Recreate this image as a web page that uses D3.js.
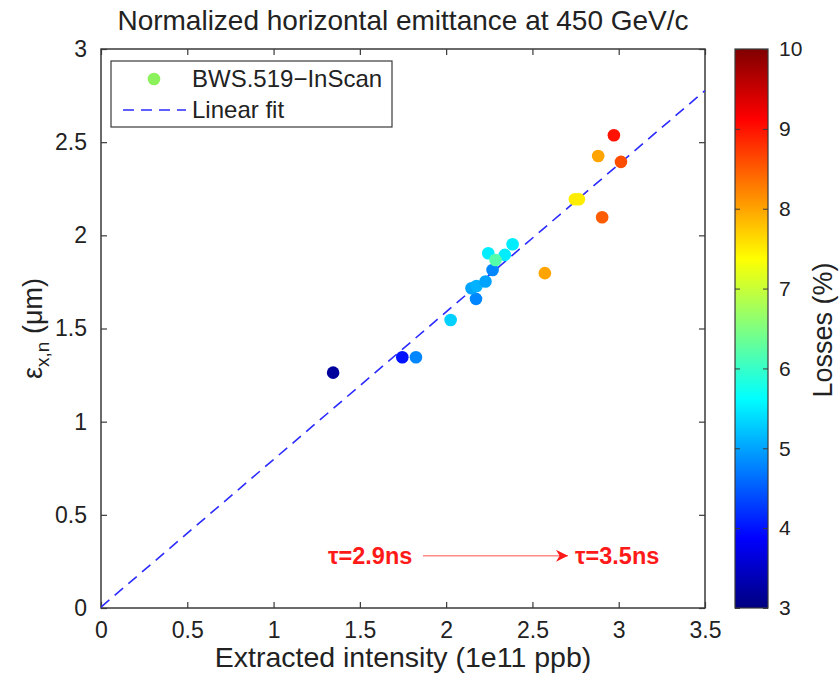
<!DOCTYPE html>
<html>
<head>
<meta charset="utf-8">
<script src="https://cdn.jsdelivr.net/npm/d3@7"></script>
<style>
  body { margin: 0; background: #fff; }
  svg text { font-family: "Liberation Sans", Arial, sans-serif; }
</style>
</head>
<body>
<div id="chart"></div>
<script>
const intensity = [1.345, 1.746, 1.825, 2.026, 2.173, 2.147, 2.176, 2.228, 2.269, 2.244, 2.340, 2.385, 2.286, 2.572, 2.972, 2.881, 3.013, 2.746, 2.769, 2.904];
const emittance = [1.263, 1.346, 1.346, 1.546, 1.659, 1.716, 1.728, 1.752, 1.814, 1.904, 1.895, 1.952, 1.868, 1.797, 2.537, 2.426, 2.394, 2.194, 2.194, 2.097];
const losses    = [3.2, 4.0, 4.8, 5.3, 4.8, 5.0, 5.1, 5.0, 4.8, 5.5, 5.5, 5.5, 6.2, 8.0, 9.0, 8.0, 8.6, 7.5, 7.5, 8.5];

const fitSlope = 0.792;
const fitIntercept = 0.005;

const xTicks = [0, 0.5, 1, 1.5, 2, 2.5, 3, 3.5];
const yTicks = [0, 0.5, 1, 1.5, 2, 2.5, 3];
const cTicks = [3, 4, 5, 6, 7, 8, 9, 10];

const W = 839, H = 674;
const plot = { left: 101, right: 705, top: 49, bottom: 608 };
const cbar = { left: 735, right: 768 };

const svg = d3.select("#chart").append("svg")
  .attr("width", W).attr("height", H);

const x = d3.scaleLinear().domain([0, 3.5]).range([plot.left, plot.right]);
const y = d3.scaleLinear().domain([0, 3]).range([plot.bottom, plot.top]);
const cy = d3.scaleLinear().domain([3, 10]).range([plot.bottom, plot.top]);

// matlab jet
function jet(t) {
  const c = v => Math.max(0, Math.min(1, v));
  const r = c(1.5 - Math.abs(4 * t - 3));
  const g = c(1.5 - Math.abs(4 * t - 2));
  const b = c(1.5 - Math.abs(4 * t - 1));
  return d3.rgb(r * 255, g * 255, b * 255).formatHex();
}
const color = v => jet((v - 3) / 7);

const axisColor = "#3a3a3a";
const textColor = "#222";

// title
svg.append("text")
  .attr("x", (plot.left + plot.right) / 2).attr("y", 30)
  .attr("text-anchor", "middle")
  .style("font-size", "28px").style("fill", textColor)
  .text("Normalized horizontal emittance at 450 GeV/c");

// axes with inward ticks
svg.append("g")
  .attr("transform", `translate(0,${plot.bottom})`)
  .call(d3.axisBottom(x).tickValues(xTicks).tickFormat(d3.format("")).tickSizeInner(-6).tickSizeOuter(0).tickPadding(14))
  .call(g => g.select(".domain").remove());
svg.append("g")
  .attr("transform", `translate(0,${plot.top})`)
  .call(d3.axisTop(x).tickValues(xTicks).tickFormat("").tickSizeInner(-6).tickSizeOuter(0))
  .call(g => g.select(".domain").remove());
svg.append("g")
  .attr("transform", `translate(${plot.left},0)`)
  .call(d3.axisLeft(y).tickValues(yTicks).tickFormat(d3.format("")).tickSizeInner(-6).tickSizeOuter(0).tickPadding(14))
  .call(g => g.select(".domain").remove());
svg.append("g")
  .attr("transform", `translate(${plot.right},0)`)
  .call(d3.axisRight(y).tickValues(yTicks).tickFormat("").tickSizeInner(-6).tickSizeOuter(0))
  .call(g => g.select(".domain").remove());

svg.selectAll(".tick line").attr("stroke", axisColor).attr("stroke-width", 1.2);
svg.selectAll(".tick text").style("font-size", "23px").style("fill", textColor);

svg.append("rect")
  .attr("x", plot.left).attr("y", plot.top)
  .attr("width", plot.right - plot.left).attr("height", plot.bottom - plot.top)
  .attr("fill", "none").attr("stroke", axisColor).attr("stroke-width", 1.5);

// axis labels
svg.append("text")
  .attr("x", (plot.left + plot.right) / 2).attr("y", 667)
  .attr("text-anchor", "middle")
  .style("font-size", "28.5px").style("fill", textColor)
  .text("Extracted intensity (1e11 ppb)");

const yl = svg.append("text")
  .attr("transform", `translate(42,${(plot.top + plot.bottom) / 2}) rotate(-90)`)
  .attr("text-anchor", "middle")
  .style("font-size", "27px").style("fill", textColor);
yl.append("tspan").text("ε");
yl.append("tspan").attr("dy", 7).style("font-size", "19px").text("x,n");
yl.append("tspan").attr("dy", -7).text(" (μm)");

// fit line
svg.append("clipPath").attr("id", "clip").append("rect")
  .attr("x", plot.left).attr("y", plot.top)
  .attr("width", plot.right - plot.left).attr("height", plot.bottom - plot.top);

svg.append("line")
  .attr("clip-path", "url(#clip)")
  .attr("x1", x(0)).attr("y1", y(fitIntercept))
  .attr("x2", x(3.5)).attr("y2", y(fitIntercept + fitSlope * 3.5))
  .attr("stroke", "#2b2bff").attr("stroke-width", 1.6)
  .attr("stroke-dasharray", "11,7");

// points
svg.append("g").selectAll("circle")
  .data(intensity.map((v, i) => ({ x: v, y: emittance[i], c: losses[i] })))
  .enter().append("circle")
  .attr("cx", d => x(d.x))
  .attr("cy", d => y(d.y))
  .attr("r", 6.3)
  .attr("fill", d => color(d.c));

// annotation
const red = "#ff1a1a";
const annY = y(0.28);
svg.append("text")
  .attr("x", 328).attr("y", annY + 8)
  .style("font-size", "23.5px").style("font-weight", "bold").style("fill", red)
  .text("τ=2.9ns");
svg.append("defs").append("marker")
  .attr("id", "arrow").attr("viewBox", "0 0 10 10")
  .attr("refX", 10).attr("refY", 5)
  .attr("markerWidth", 17).attr("markerHeight", 12)
  .attr("markerUnits", "userSpaceOnUse")
  .attr("orient", "auto")
  .append("path").attr("d", "M0,0 L10,5 L0,10 L3,5 Z").attr("fill", red);
svg.append("line")
  .attr("x1", 423).attr("x2", 568)
  .attr("y1", annY).attr("y2", annY)
  .attr("stroke", "#ff8a8a").attr("stroke-width", 1.5)
  .attr("marker-end", "url(#arrow)");
svg.append("text")
  .attr("x", 575).attr("y", annY + 8)
  .style("font-size", "23.5px").style("font-weight", "bold").style("fill", red)
  .text("τ=3.5ns");

// legend
const lg = svg.append("g");
lg.append("rect")
  .attr("x", 111).attr("y", 61).attr("width", 281).attr("height", 66)
  .attr("fill", "#fff").attr("stroke", axisColor).attr("stroke-width", 1.2);
lg.append("circle").attr("cx", 154).attr("cy", 79).attr("r", 6.3).attr("fill", "#8cf25c");
lg.append("text").attr("x", 192).attr("y", 87).style("font-size", "24px").style("fill", textColor).text("BWS.519−InScan");
lg.append("line").attr("x1", 123).attr("x2", 186).attr("y1", 110).attr("y2", 110)
  .attr("stroke", "#2b2bff").attr("stroke-width", 1.6).attr("stroke-dasharray", "11,7");
lg.append("text").attr("x", 192).attr("y", 118).style("font-size", "24px").style("fill", textColor).text("Linear fit");

// colorbar
const grad = svg.select("defs").append("linearGradient")
  .attr("id", "jet").attr("x1", 0).attr("y1", 1).attr("x2", 0).attr("y2", 0);
d3.range(0, 1.0001, 1 / 64).forEach(t => {
  grad.append("stop").attr("offset", t).attr("stop-color", jet(t));
});
svg.append("rect")
  .attr("x", cbar.left).attr("y", plot.top)
  .attr("width", cbar.right - cbar.left).attr("height", plot.bottom - plot.top)
  .attr("fill", "url(#jet)").attr("stroke", axisColor).attr("stroke-width", 1.2);

svg.append("g")
  .attr("transform", `translate(${cbar.right},0)`)
  .call(d3.axisRight(cy).tickValues(cTicks).tickFormat(d3.format("d")).tickSizeInner(-5).tickSizeOuter(0).tickPadding(11))
  .call(g => g.select(".domain").remove())
  .call(g => g.selectAll("text").style("font-size", "21px").style("fill", textColor))
  .call(g => g.selectAll("line").attr("stroke", axisColor));
svg.append("g")
  .attr("transform", `translate(${cbar.left},0)`)
  .call(d3.axisLeft(cy).tickValues(cTicks).tickFormat("").tickSizeInner(-5).tickSizeOuter(0))
  .call(g => g.select(".domain").remove())
  .call(g => g.selectAll("line").attr("stroke", axisColor));

svg.append("text")
  .attr("transform", `translate(832,330) rotate(-90)`)
  .attr("text-anchor", "middle")
  .style("font-size", "27px").style("fill", textColor)
  .text("Losses (%)");
</script>
</body>
</html>
